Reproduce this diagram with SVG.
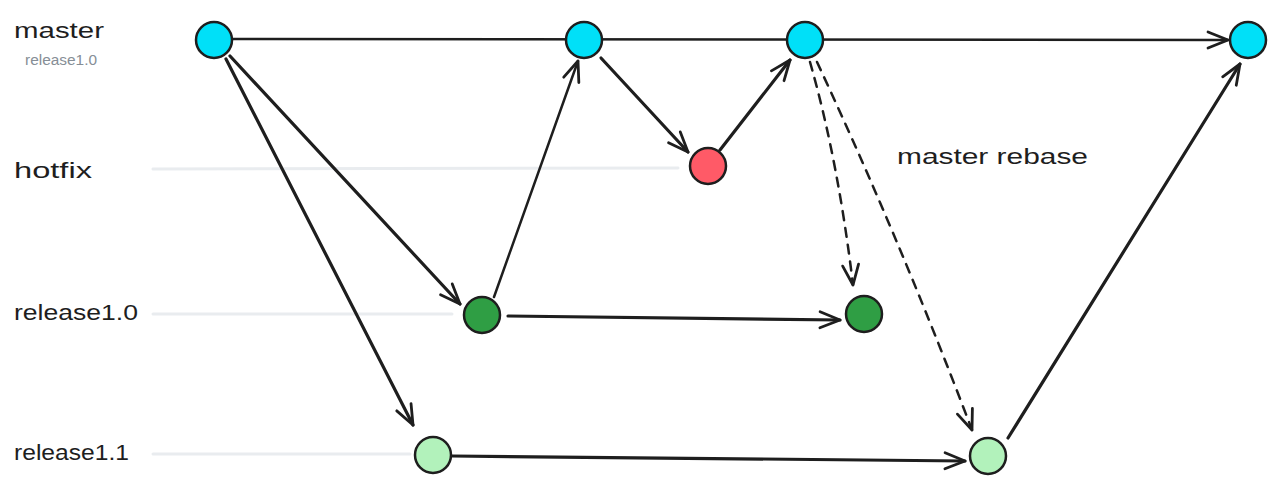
<svg xmlns="http://www.w3.org/2000/svg" width="1280" height="488" viewBox="0 0 1280 488">
<defs>
<style>
.lbl{font-family:"Liberation Sans","DejaVu Sans",sans-serif;font-size:22px;fill:#1e1e1e}
.sub{font-family:"Liberation Sans","DejaVu Sans",sans-serif;font-size:14px;fill:#868e96}
.lane{stroke:#e9ecef;stroke-width:3;stroke-linecap:round;fill:none}
.c{stroke:#1e1e1e;stroke-width:2.5;fill:none;stroke-linecap:round}
.thick{stroke-width:3.2}
.dash{stroke-dasharray:9 8}
.n{stroke:#1e1e1e;stroke-width:2.5}
.cy{fill:#00e0f8}
.rd{fill:#ff5a67}
.dg{fill:#2f9e44}
.lg{fill:#b2f2bb}
</style>
<marker id="ah" markerUnits="userSpaceOnUse" markerWidth="26" markerHeight="22" viewBox="-24 -11 26 22" refX="0" refY="0" orient="auto" overflow="visible">
<path d="M-20,-8 L0,0 L-20,8" fill="none" stroke="#1e1e1e" stroke-width="2.8" stroke-linecap="round" stroke-linejoin="round"/>
</marker>
</defs>
<rect width="1280" height="488" fill="#ffffff"/>
<g id="lanes">
<line class="lane" x1="153" y1="169" x2="678" y2="168"/>
<line class="lane" x1="153" y1="314" x2="452" y2="314"/>
<line class="lane" x1="153" y1="454" x2="410" y2="454"/>
</g>
<g id="labels">
<text class="lbl" x="14" y="38" textLength="90" lengthAdjust="spacingAndGlyphs">master</text>
<text class="sub" x="25" y="65" textLength="72" lengthAdjust="spacingAndGlyphs">release1.0</text>
<text class="lbl" x="14" y="178" textLength="78" lengthAdjust="spacingAndGlyphs">hotfix</text>
<text class="lbl" x="14" y="320" textLength="124" lengthAdjust="spacingAndGlyphs">release1.0</text>
<text class="lbl" x="14" y="460" textLength="115" lengthAdjust="spacingAndGlyphs">release1.1</text>
<text class="lbl" x="897" y="164" textLength="191" lengthAdjust="spacingAndGlyphs">master rebase</text>
</g>
<g id="connectors">
<path class="c" d="M232,39 L1228,40" marker-end="url(#ah)"/>
<path class="c thick" d="M230,56 L460,304" marker-end="url(#ah)"/>
<path class="c thick" d="M226,59 L413,425" marker-end="url(#ah)"/>
<path class="c" d="M494,297 L578,61" marker-end="url(#ah)"/>
<path class="c thick" d="M601,58 L688,152" marker-end="url(#ah)"/>
<path class="c thick" d="M720,150 L790,60" marker-end="url(#ah)"/>
<path class="c thick" d="M508,316 L840,320" marker-end="url(#ah)"/>
<path class="c dash" d="M810,62 Q838,160 853,285" marker-end="url(#ah)"/>
<path class="c dash" d="M817,62 Q900,240 972,430" marker-end="url(#ah)"/>
<path class="c thick" d="M452,456 L965,461" marker-end="url(#ah)"/>
<path class="c thick" d="M1008,438 L1240,64" marker-end="url(#ah)"/>
</g>
<g id="m1"><circle class="n cy" cx="214" cy="40" r="18"/></g>
<g id="m2"><circle class="n cy" cx="584" cy="40" r="18"/></g>
<g id="m3"><circle class="n cy" cx="805" cy="40" r="18"/></g>
<g id="m4"><circle class="n cy" cx="1248" cy="40" r="18"/></g>
<g id="h1"><circle class="n rd" cx="708" cy="166" r="18"/></g>
<g id="r0a"><circle class="n dg" cx="482" cy="315" r="18"/></g>
<g id="r0b"><circle class="n dg" cx="864" cy="314" r="18"/></g>
<g id="r1a"><circle class="n lg" cx="433" cy="455" r="18"/></g>
<g id="r1b"><circle class="n lg" cx="988" cy="456" r="18"/></g>
</svg>
